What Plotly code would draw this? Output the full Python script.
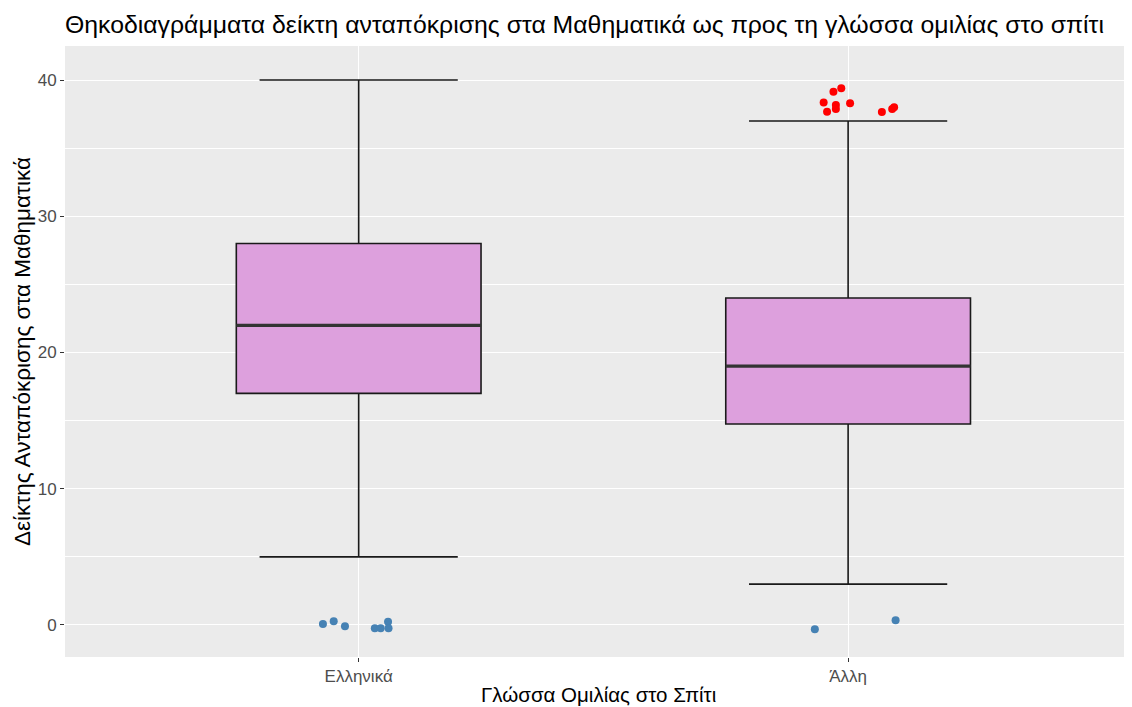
import plotly.graph_objects as go

categories = ["Ελληνικά", "Άλλη"]
cat_pos = [1, 2]
q1 = [17.0, 14.75]
median = [22.0, 19.0]
q3 = [28.0, 24.0]
lower_whisker = [5.0, 3.0]
upper_whisker = [40.0, 37.0]

# high outliers (red), jittered positions
high_x = [1.950, 1.957, 1.970, 1.986, 1.975, 1.975, 2.004, 2.069, 2.090, 2.094]
high_y = [38.36, 37.68, 39.14, 39.39, 38.17, 37.87, 38.29, 37.65, 37.87, 38.0]
# low outliers (blue)
low_x = [0.927, 0.949, 0.972, 1.033, 1.045, 1.060, 1.061, 1.932, 2.097]
low_y = [0.07, 0.27, -0.10, -0.24, -0.24, 0.24, -0.24, -0.32, 0.34]

yticks = [0, 10, 20, 30, 40]

# the page places the figure at an 8px body offset, so work in figure coordinates
OFF = 8
W, H = 1132 - OFF, 707 - OFF
L, R, T, B = 65 - OFF, 0, 46 - OFF, 50
PW, PH = W - L - R, H - T - B

fig = go.Figure()
fig.add_trace(go.Box(
    x=cat_pos, q1=q1, median=median, q3=q3,
    lowerfence=lower_whisker, upperfence=upper_whisker,
    fillcolor="#DDA0DD", line=dict(color="#1A1A1A", width=1.6),
    width=0.5, whiskerwidth=0.81, boxpoints=False, showlegend=False,
    hoverinfo="skip",
))
# thicker median lines like ggplot
for p, m in zip(cat_pos, median):
    fig.add_trace(go.Scatter(
        x=[p - 0.25, p + 0.25], y=[m, m], mode="lines",
        line=dict(color="#333333", width=3.2), showlegend=False, hoverinfo="skip",
    ))
fig.add_trace(go.Scatter(
    x=high_x, y=high_y, mode="markers",
    marker=dict(color="#FF0000", size=8), showlegend=False,
))
fig.add_trace(go.Scatter(
    x=low_x, y=low_y, mode="markers",
    marker=dict(color="#4682B4", size=8), showlegend=False,
))

font_family = "Liberation Sans, Arial, Helvetica, sans-serif"
fig.update_layout(
    width=W, height=H,
    margin=dict(l=L, r=R, t=T, b=B, autoexpand=False),
    paper_bgcolor="white", plot_bgcolor="#EBEBEB",
    font=dict(family=font_family, color="black"),
    title=dict(
        text="Θηκοδιαγράμματα δείκτη ανταπόκρισης στα Μαθηματικά ως προς τη γλώσσα ομιλίας στο σπίτι",
        x=(65 - OFF) / W, xanchor="left", y=1 - (24 - OFF) / H, yanchor="middle",
        font=dict(size=24.8, family=font_family, color="black"),
    ),
    xaxis=dict(
        range=[0.4, 2.58], tickvals=cat_pos, ticktext=categories,
        showgrid=True, gridcolor="white", gridwidth=1.3, zeroline=False,
        ticks="outside", ticklen=4, tickcolor="#333333", tickwidth=1.1,
        tickfont=dict(size=17, color="#4D4D4D"), automargin=False,
    ),
    yaxis=dict(
        range=[-2.35, 42.5], tickvals=yticks,
        showgrid=True, gridcolor="white", gridwidth=1.3, zeroline=False,
        ticks="outside", ticklen=4, tickcolor="#333333", tickwidth=1.1,
        tickfont=dict(size=17, color="#4D4D4D"), automargin=False,
        minor=dict(tickvals=[5, 15, 25, 35], showgrid=True, gridcolor="white", gridwidth=0.6, ticks=""),
    ),
    annotations=[
        dict(text="Γλώσσα Ομιλίας στο Σπίτι", xref="paper", yref="paper",
             x=0.5, y=-((695 - OFF) - (H - B)) / PH, xanchor="center", yanchor="middle",
             showarrow=False, font=dict(size=20.5, color="black")),
        dict(text="Δείκτης Ανταπόκρισης στα Μαθηματικά", xref="paper", yref="paper",
             x=-((65 - OFF) - (22 - OFF)) / PW, y=((H - B) - (352 - OFF)) / PH,
             xanchor="center", yanchor="middle",
             textangle=-90, showarrow=False, font=dict(size=22.5, color="black")),
    ],
)

fig.write_html("out.html")
